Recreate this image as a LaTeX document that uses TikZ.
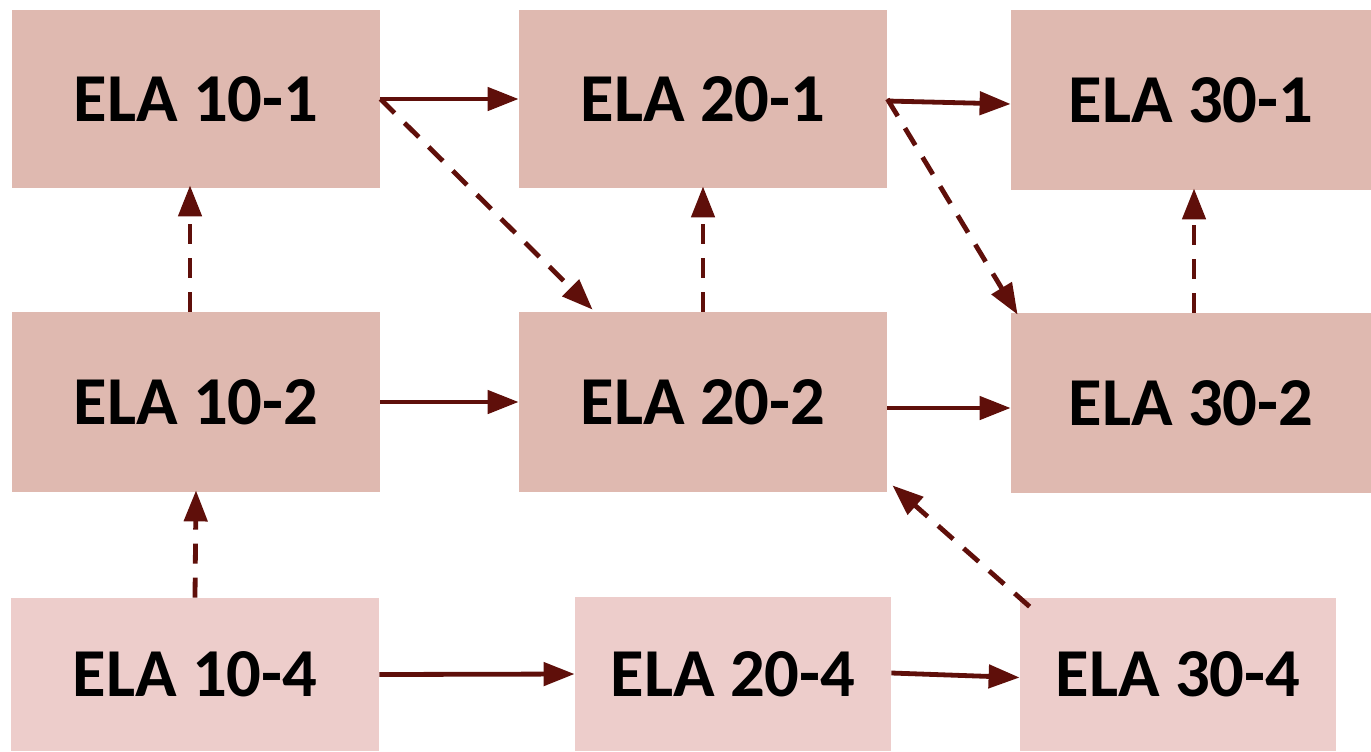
\documentclass[tikz,border=0pt]{standalone}
\usepackage{fontspec}
\setmainfont{Carlito}
\usetikzlibrary{arrows.meta,calc}

\definecolor{boxdark}{HTML}{DFB9B0}
\definecolor{boxlight}{HTML}{EDCDCB}
\definecolor{linkred}{HTML}{5F0F0A}

\tikzset{
  course/.style={rectangle, draw=none, inner sep=0pt, text=black,
    font=\fontsize{34.3}{40}\selectfont\bfseries},
  upper/.style={course, fill=boxdark},
  lower/.style={course, fill=boxlight},
  seq/.style={draw=linkred, line width=2.4pt,
    -{Triangle[length=15.5pt,width=11.5pt]}},
  alt/.style={seq, dash pattern=on 10pt off 7pt},
}

\begin{document}
\begin{tikzpicture}[x=0.5pt, y=-0.5pt]
  \useasboundingbox (0,0) rectangle (1371,751);

  % first row
  \node[upper, minimum width=184pt, minimum height=89pt] (a1) at (196,99) {ELA 10-1};
  \node[upper, minimum width=184pt, minimum height=89pt] (b1) at (703,99) {ELA 20-1};
  \node[upper, minimum width=180pt, minimum height=90pt] (c1) at (1191,100) {ELA 30-1};

  % second row
  \node[upper, minimum width=184pt, minimum height=90pt] (a2) at (196,402) {ELA 10-2};
  \node[upper, minimum width=184pt, minimum height=90pt] (b2) at (703,402) {ELA 20-2};
  \node[upper, minimum width=180pt, minimum height=90pt] (c2) at (1191,403) {ELA 30-2};

  % third row
  \node[lower, minimum width=184pt, minimum height=76.5pt] (a4) at (195,674.5) {ELA 10-4};
  \node[lower, minimum width=158pt, minimum height=77pt] (b4) at (733,674) {ELA 20-4};
  \node[lower, minimum width=158pt, minimum height=76.5pt] (c4) at (1178,674.5) {ELA 30-4};

  % horizontal sequences
  \draw[seq] (a1.east) -- (b1.west);
  \draw[seq] ([yshift=-1pt]b1.east) -- ([yshift=-2pt]c1.west);
  \draw[seq] (a2.east) -- (b2.west);
  \draw[seq] ([yshift=-3pt]b2.east) -- ([yshift=-2.5pt]c2.west);
  \draw[seq] (a4.east) -- (b4.west);
  \draw[seq] ([yshift=0.5pt]b4.east) -- ([yshift=-1.5pt]c4.west);

  % alternative routes
  \draw[alt] ([xshift=-3pt]a2.north) -- ([xshift=-3pt,yshift=1.5pt]a1.south);
  \draw[alt] (a4.north) -- ([yshift=1pt]a2.south);
  \draw[alt] (b2.north) -- ([yshift=1pt]b1.south);
  \draw[alt] ([xshift=1.5pt]c2.north) -- ([xshift=1.5pt,yshift=1pt]c1.south);
  \draw[alt] (a1.east) -- ($(b2.north west)+(74,-2)$);
  \draw[alt] (b1.east) -- ($(c2.north west)+(7,2)$);
  \draw[alt] ($(c4.north west)+(10,9)$) -- ($(b2.south east)+(5,-7)$);
\end{tikzpicture}
\end{document}
